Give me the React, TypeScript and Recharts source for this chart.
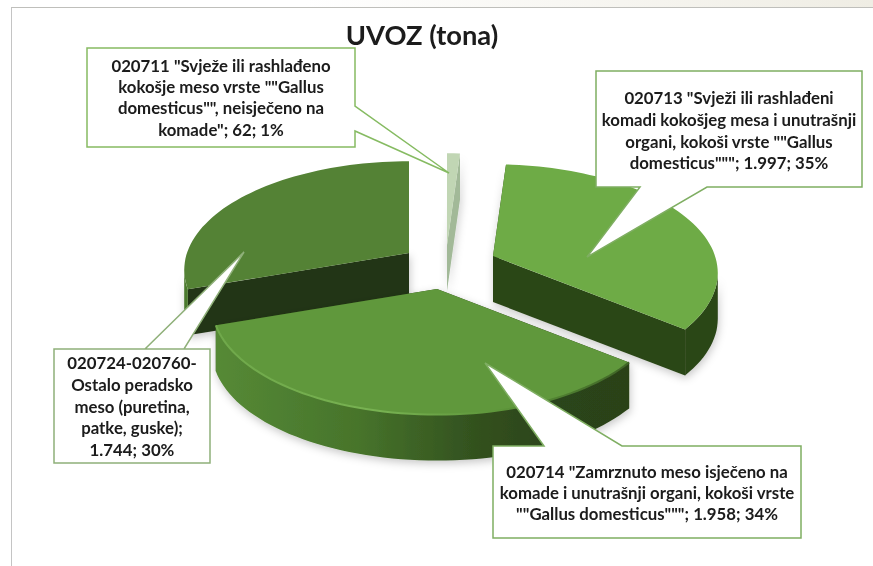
import { PieChart, Pie } from 'recharts';

// drawing order is back to front, so the big front slice ends up on top
const categories = ['020724-020760', '020711', '020713', '020714'];
const tons = [1744, 62, 1997, 1958];
const labelLines = [
    ['020724-020760-', 'Ostalo peradsko', 'meso (puretina,', 'patke, guske);', '1.744; 30%'],
    ['020711 "Svježe ili rashlađeno', 'kokošje meso vrste ""Gallus', 'domesticus"", neisječeno na', 'komade"; 62; 1%'],
    ['020713 "Svježi ili rashlađeni', 'komadi kokošjeg mesa i unutrašnji', 'organi, kokoši vrste ""Gallus', 'domesticus"""; 1.997; 35%'],
    ['020714 "Zamrznuto meso isječeno na', 'komade i unutrašnji organi, kokoši vrste', '""Gallus domesticus"""; 1.958; 34%'],
];

const total = tons.reduce((a, b) => a + b, 0);
const firstAngle = 90 - (360 * (total - tons[0])) / total;
const data = categories.map((name, i) => ({ name, value: tons[i] }));

// 3d look
const SQUASH = 0.4775;
const PERSPECTIVE = 0.156;
const DEPTH = 46;

const CX = 445;
const CY = 265;

const sliceStyles = [
    { dx: -36, dy: -12, top: '#548235', rim: '#4c7a2e', cut: '#223514' },
    { dx: 2, dy: -20, top: '#c1d6b4', rim: '#a2b998', cut: '#a2b998' },
    { dx: 48, dy: -9, top: '#6eab46', rim: '#2c4619', cut: '#2c4619' },
    { dx: -8, dy: 24, top: '#60983c', rim: 'url(#frontWall)', cut: '#2b4219', highlight: 'url(#frontEdge)' },
];

const callouts = [
    { x: 54, y: 349, w: 156, h: 114, pointer: [[145, 349], [244, 252], [184, 349]], lineY: [363, 385, 407, 428, 450], stroke: '#8fb079' },
    { x: 87, y: 48, w: 268, h: 99, pointer: [[355, 106], [449, 173], [355, 131]], lineY: [66, 87.3, 108.7, 130], stroke: '#86bb62' },
    { x: 596, y: 71, w: 266, h: 116, pointer: [[707, 187], [587, 257], [640, 187]], lineY: [98, 120, 142, 163], stroke: '#7fae62' },
    { x: 493, y: 446, w: 308, h: 92, pointer: [[622, 446], [485, 363], [544, 446]], lineY: [472, 493, 514], stroke: '#7fae62' },
];

function project(ox: number, oy: number, radius: number, deg: number) {
    const a = (deg * Math.PI) / 180;
    const depth = 1 + PERSPECTIVE * Math.cos(a);
    return [ox + (radius * Math.sin(a)) / depth, oy - (radius * SQUASH * Math.cos(a)) / depth];
}

const toPath = (pts: number[][]) => 'M' + pts.map((p) => `${p[0].toFixed(1)},${p[1].toFixed(1)}`).join('L') + 'Z';
const down = (pts: number[][]) => pts.map((p) => [p[0], p[1] + DEPTH]);

function sampleRim(ox: number, oy: number, radius: number, from: number, to: number) {
    const pts: number[][] = [];
    const steps = Math.max(2, Math.ceil((to - from) / 2));
    for (let i = 0; i <= steps; i++) {
        pts.push(project(ox, oy, radius, from + ((to - from) * i) / steps));
    }
    return pts;
}

function Slice3D(props: any) {
    const { cx, cy, outerRadius, startAngle, endAngle, index } = props;
    const style = sliceStyles[index];
    const ox = cx + style.dx;
    const oy = cy + style.dy;
    // clockwise from 12 o'clock, wrapped to 0..360
    const sweep = startAngle - endAngle;
    const from = (((90 - startAngle) % 360) + 360) % 360;
    const to = from + sweep;

    const rim = sampleRim(ox, oy, outerRadius, from, to);
    const apex = [ox, oy];
    const first = rim[0];
    const last = rim[rim.length - 1];

    // only the part of the rim that faces the viewer gets a wall
    const wallFrom = Math.max(from, 99);
    const wallTo = Math.min(to, 261);
    const wall = wallTo > wallFrom ? sampleRim(ox, oy, outerRadius, wallFrom, wallTo) : null;

    return (
        <g>
            <g filter="url(#softShadow)">
                <path d={toPath([apex, first, ...down([first]), ...down([apex])])} fill={style.cut} />
                <path d={toPath([apex, last, ...down([last]), ...down([apex])])} fill={style.cut} />
                {wall && <path d={toPath([...wall, ...down(wall).reverse()])} fill={style.rim} />}
            </g>
            <path d={toPath([apex, ...rim])} fill={style.top} />
            {style.highlight && wall && (
                <path d={'M' + wall.map((p) => p.join(',')).join('L')} fill="none" stroke={style.highlight} strokeWidth={2} />
            )}
        </g>
    );
}

function Callout(props: any) {
    const { index } = props;
    const c = callouts[index];
    const [a, tip, b] = c.pointer;
    const x2 = c.x + c.w;
    const y2 = c.y + c.h;
    // outline runs clockwise, the pointer is spliced in on whichever side it leaves from
    let pts: number[][];
    if (a[1] === c.y) {
        pts = [[c.x, c.y], b, tip, a, [x2, c.y], [x2, y2], [c.x, y2]];
    } else if (a[0] === x2) {
        pts = [[c.x, c.y], [x2, c.y], a, tip, b, [x2, y2], [c.x, y2]];
    } else {
        pts = [[c.x, c.y], [x2, c.y], [x2, y2], a, tip, b, [c.x, y2]];
    }
    return (
        <g>
            <path d={toPath(pts)} fill="#fff" stroke={c.stroke} strokeWidth={1.5} />
            {labelLines[index].map((line, i) => (
                <text
                    key={i}
                    x={c.x + c.w / 2}
                    y={c.lineY[i] + 5.5}
                    textAnchor="middle"
                    fontFamily="Lato"
                    fontWeight={700}
                    fontSize={16.8}
                    fill="#1a1a1a"
                    filter="url(#textSoft)"
                >
                    {line}
                </text>
            ))}
        </g>
    );
}

export default function App() {
    return (
        <div style={{ position: 'absolute', left: 0, top: 0, width: 873, height: 566, background: '#fff', overflow: 'hidden' }}>
            <div style={{ position: 'absolute', left: 0, top: 0, width: 873, height: 7, background: 'linear-gradient(to right, #ffffff 35%, #efede4)' }} />
            <div style={{ position: 'absolute', left: 11, top: 7, width: 862, height: 559, borderTop: '1.5px solid #bfbfbb', borderLeft: '1.5px solid #c4c4c4', boxSizing: 'border-box' }} />
            <PieChart width={873} height={566} margin={{ top: 0, right: 0, bottom: 0, left: 0 }} style={{ position: 'absolute', left: 0, top: 0 }}>
                <defs>
                    <filter id="softShadow" filterUnits="userSpaceOnUse" x={0} y={0} width={873} height={566}>
                        <feDropShadow dx={1} dy={3} stdDeviation={4} floodColor="#000" floodOpacity={0.22} />
                    </filter>
                    <filter id="textSoft" filterUnits="userSpaceOnUse" x={0} y={0} width={873} height={566}>
                        <feGaussianBlur stdDeviation={0.3} />
                    </filter>
                    <linearGradient id="frontWall" gradientUnits="userSpaceOnUse" x1={212} y1={0} x2={630} y2={0}>
                        <stop offset="0%" stopColor="#568a36" />
                        <stop offset="35%" stopColor="#47742b" />
                        <stop offset="62%" stopColor="#33521f" />
                        <stop offset="80%" stopColor="#2c451a" />
                        <stop offset="100%" stopColor="#2b4219" />
                    </linearGradient>
                    <linearGradient id="frontEdge" gradientUnits="userSpaceOnUse" x1={212} y1={0} x2={630} y2={0}>
                        <stop offset="0%" stopColor="#6fa84a" />
                        <stop offset="40%" stopColor="#78b252" />
                        <stop offset="70%" stopColor="#5c9439" />
                        <stop offset="100%" stopColor="#3f6426" />
                    </linearGradient>
                </defs>
                <text x={422} y={45} textAnchor="middle" fontFamily="Lato" fontWeight={700} fontSize={27.3} fill="#1a1a1a" filter="url(#textSoft)">
                    UVOZ (tona)
                </text>
                <Pie
                    data={data}
                    dataKey="value"
                    nameKey="name"
                    cx={CX}
                    cy={CY}
                    outerRadius={222}
                    startAngle={firstAngle}
                    endAngle={firstAngle - 360}
                    isAnimationActive={false}
                    shape={Slice3D}
                    label={Callout}
                    labelLine={false}
                />
            </PieChart>
        </div>
    );
}
